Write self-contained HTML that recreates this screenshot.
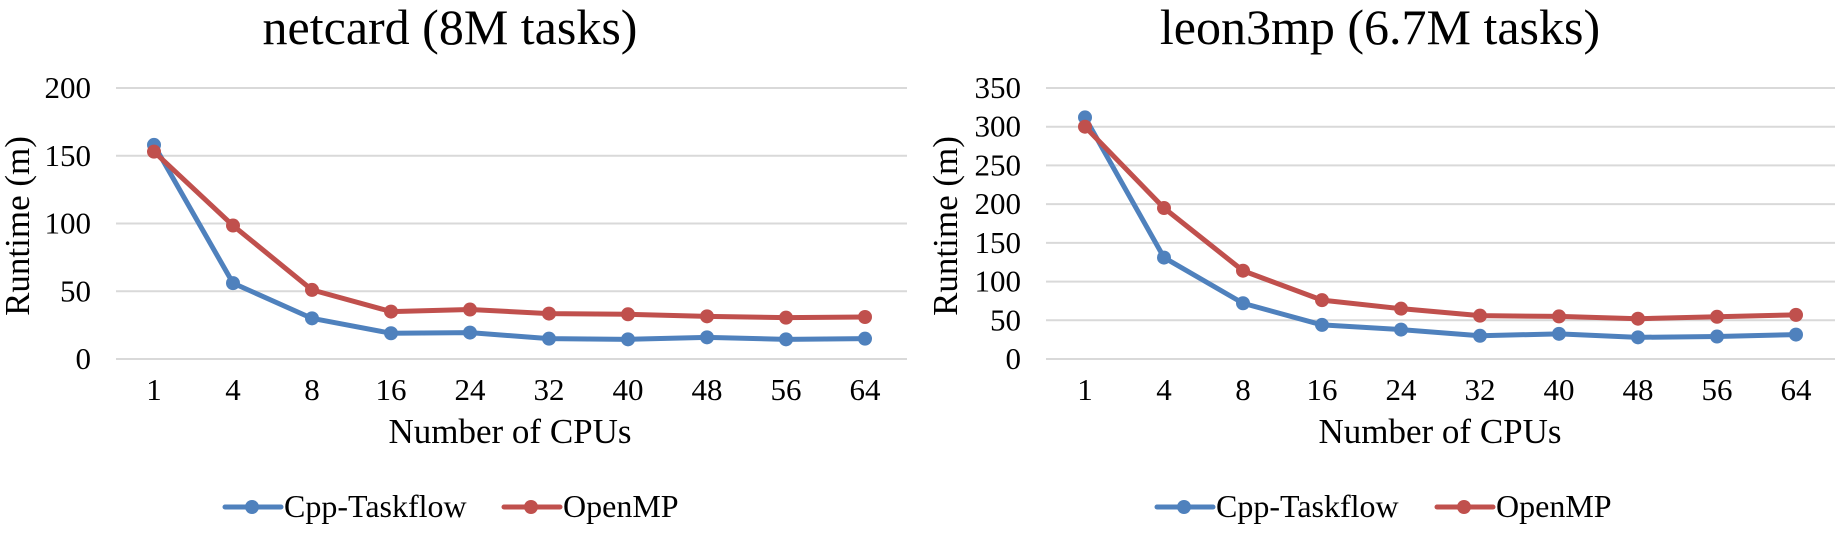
<!DOCTYPE html>
<html><head><meta charset="utf-8"><style>
html,body{margin:0;padding:0;background:#fff;}
svg{display:block;font-family:"Liberation Serif","Times New Roman",serif;}
</style></head><body>
<svg width="1836" height="533" viewBox="0 0 1836 533" xmlns="http://www.w3.org/2000/svg">
<g id="c"></g>
</svg>
<script>
const NS="http://www.w3.org/2000/svg";
const svg=document.querySelector('svg');
function el(t,a,txt){const e=document.createElementNS(NS,t);for(const k in a)e.setAttribute(k,a[k]);if(txt!==undefined)e.textContent=txt;svg.appendChild(e);return e;}
const xl=['1','4','8','16','24','32','40','48','56','64'];
function chart(o){
  const y0=359,y1=88;
  const ys=v=>y0-(v/o.max)*(y0-y1);
  const xs=i=>o.x1+i*79;
  for(let v=0;v<=o.max;v+=o.step){
    el('line',{x1:o.gx0,x2:o.gx1,y1:ys(v),y2:ys(v),stroke:'#d9d9d9','stroke-width':2});
    el('text',{x:o.lx,y:ys(v)+10,'text-anchor':'end','font-size':31},String(v));
  }
  xl.forEach((t,i)=>el('text',{x:xs(i),y:400,'text-anchor':'middle','font-size':31},t));
  el('text',{x:o.tx,y:44,'text-anchor':'middle','font-size':50},o.title);
  el('text',{x:o.ax,y:443,'text-anchor':'middle','font-size':35},'Number of CPUs');
  el('text',{x:0,y:0,'text-anchor':'middle','font-size':35,transform:`translate(${o.yx+12},226) rotate(-90)`},'Runtime (m)');
  [[o.blue,'#4f81bd'],[o.red,'#c0504d']].forEach(([d,c])=>{
    el('polyline',{points:d.map((v,i)=>xs(i)+','+ys(v)).join(' '),fill:'none',stroke:c,'stroke-width':5,'stroke-linejoin':'round'});
    d.forEach((v,i)=>el('circle',{cx:xs(i),cy:ys(v),r:7,fill:c}));
  });
  [[o.lg1,'#4f81bd','Cpp-Taskflow'],[o.lg2,'#c0504d','OpenMP']].forEach(([x,c,t])=>{
    el('line',{x1:x,x2:x+56,y1:507,y2:507,stroke:c,'stroke-width':5,'stroke-linecap':'round'});
    el('circle',{cx:x+27,cy:507,r:7,fill:c});
    el('text',{x:x+59,y:517,'font-size':32},t);
  });
}
chart({max:200,step:50,gx0:116,gx1:907,x1:154,lx:91,tx:450,ax:510,yx:17,title:'netcard (8M tasks)',
 blue:[158,56,30,19,19.5,15,14.5,16,14.5,15],red:[153,98.5,51,35,36.5,33.5,33,31.5,30.5,31],lg1:225,lg2:504});
chart({max:350,step:50,gx0:1046,gx1:1835,x1:1085,lx:1021,tx:1380,ax:1440,yx:945,title:'leon3mp (6.7M tasks)',
 blue:[312,131,72,44,38,30,32.5,28,29,31.5],red:[300,195,114,76,65,56,55,52,54.5,57],lg1:1157,lg2:1437});
</script>
</body></html>
